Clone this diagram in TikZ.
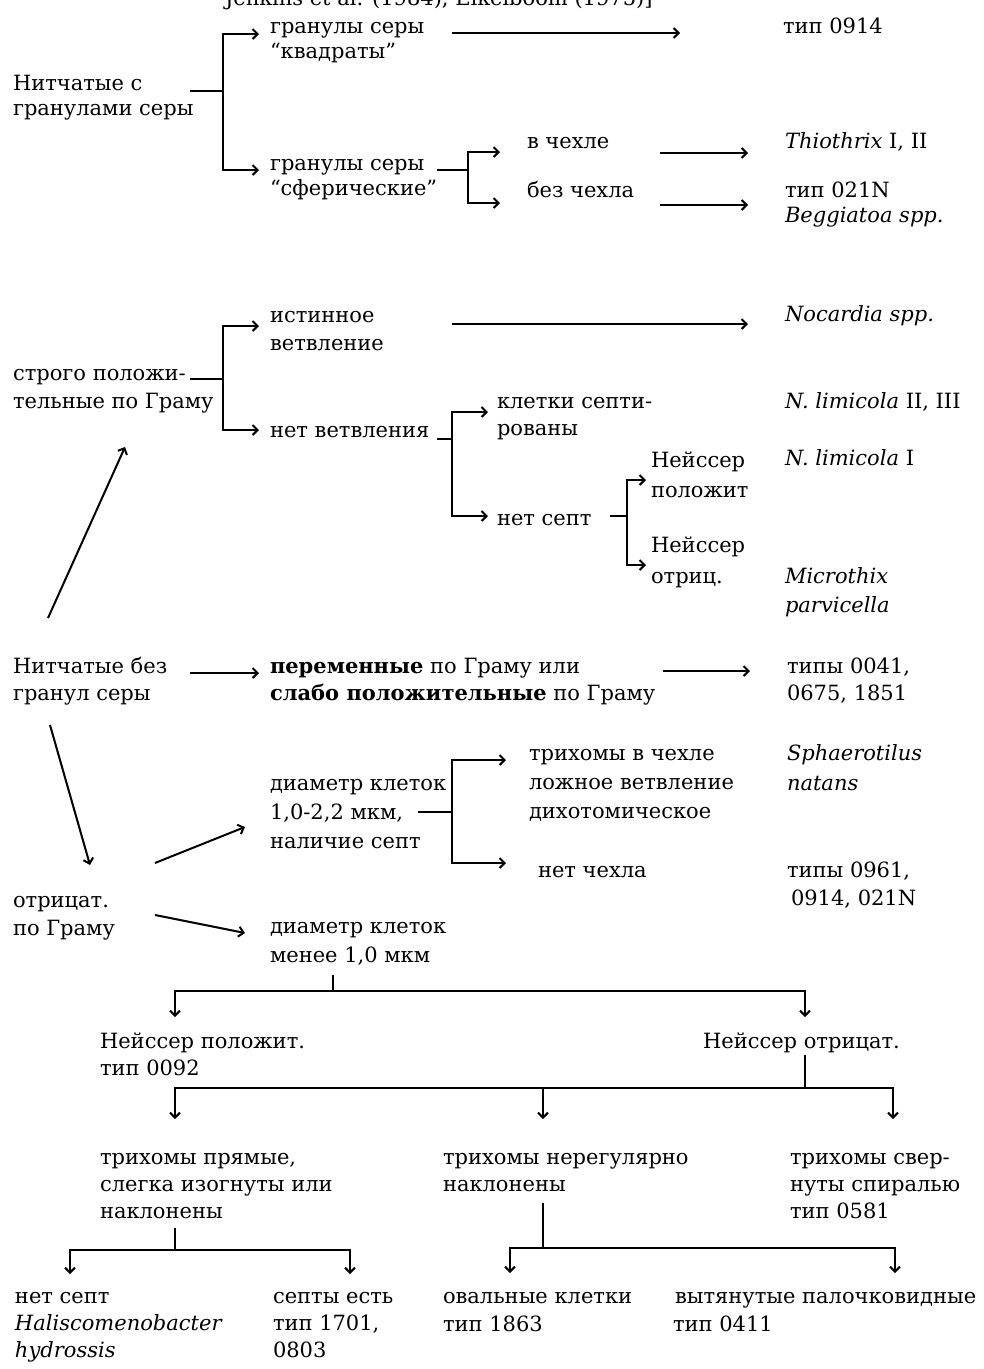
\documentclass[tikz,border=0pt]{standalone}
\usepackage{fontspec}
\setmainfont{DejaVu Serif}
\usetikzlibrary{arrows.meta}
\newcommand\fsz{21pt}
\newcommand\ml[2][27pt]{{\fontsize{\fsz}{#1}\selectfont\renewcommand\arraystretch{1}\begin{tabular}[t]{@{}l@{}}#2\end{tabular}}}
\tikzset{
  txt/.style={anchor=base west, inner sep=0pt, outer sep=0pt, font=\fontsize{\fsz}{27pt}\selectfont},
  ln/.style={line width=2pt},
  arr/.style={line width=2pt, -{Straight Barb[length=5pt,width=10pt,line width=2pt]}}
}
\begin{document}
\begin{tikzpicture}[x=1pt,y=-1pt]
\path[use as bounding box, fill=white] (0,0) rectangle (984,1369);
% title (cut off at top)
\node[txt] (title) at (225,5) {Jenkins et al. (1984), Eikelboom (1975)]};
% ---------- section 1
\node[txt] (s1) at (13,90) {\ml[25pt]{Нитчатые с\\гранулами серы}};
\node[txt] (kv) at (270,33) {\ml[25pt]{гранулы серы\\“квадраты”}};
\node[txt] (t0914) at (783,33) {тип 0914};
\node[txt] (sf) at (270,170) {\ml[25pt]{гранулы серы\\“сферические”}};
\node[txt] (vch) at (527,148) {в чехле};
\node[txt] (bch) at (527,197) {без чехла};
\node[txt] (thio) at (785,148) {\textit{Thiothrix} I, II};
\node[txt] (t021) at (785,197) {\ml[25pt]{тип 021N\\\textit{Beggiatoa spp.}}};
\coordinate (s1o) at (190,91);
\coordinate (j1) at (223,91);
\coordinate (kvi) at (259,34);
\coordinate (sfi) at (259,170);
\draw[ln] (s1o) -- (j1);
\draw[arr] (j1) |- (kvi);
\draw[arr] (j1) |- (sfi);
\coordinate (kvo) at (452,33);
\coordinate (t0914i) at (680,33);
\draw[arr] (kvo) -- (t0914i);
\coordinate (sfo) at (437,170);
\coordinate (j2) at (468,170);
\coordinate (vchi) at (500,152);
\coordinate (bchi) at (500,203);
\draw[ln] (sfo) -- (j2);
\draw[arr] (j2) |- (vchi);
\draw[arr] (j2) |- (bchi);
\coordinate (vcho) at (660,153);
\coordinate (thioi) at (748,153);
\draw[arr] (vcho) -- (thioi);
\coordinate (bcho) at (660,205);
\coordinate (t021i) at (748,205);
\draw[arr] (bcho) -- (t021i);
% ---------- section 2
\node[txt] (sp) at (13,380) {\ml[28pt]{строго положи-\\тельные по Граму}};
\node[txt] (ist) at (270,322) {\ml[28pt]{истинное\\ветвление}};
\node[txt] (noc) at (785,321) {\textit{Nocardia spp.}};
\node[txt] (nv) at (270,437) {нет ветвления};
\node[txt] (kl) at (497,408) {\ml[27pt]{клетки септи-\\рованы}};
\node[txt] (nl23) at (785,408) {\textit{N. limicola} II, III};
\node[txt] (ns) at (497,525) {нет септ};
\node[txt] (np) at (651,467) {\ml[30pt]{Нейссер\\положит}};
\node[txt] (no) at (651,552) {\ml[31pt]{Нейссер\\отриц.}};
\node[txt] (nl1) at (785,465) {\textit{N. limicola} I};
\node[txt] (mic) at (785,583) {\ml[29pt]{\textit{Microthix}\\\textit{parvicella}}};
\coordinate (spo) at (190,379);
\coordinate (j3) at (223,379);
\coordinate (isti) at (259,326);
\coordinate (nvi) at (259,430);
\draw[ln] (spo) -- (j3);
\draw[arr] (j3) |- (isti);
\draw[arr] (j3) |- (nvi);
\coordinate (isto) at (452,324);
\coordinate (noci) at (748,324);
\draw[arr] (isto) -- (noci);
\coordinate (nvo) at (437,439);
\coordinate (j4) at (452,439);
\coordinate (kli) at (488,412);
\coordinate (nsi) at (488,516);
\draw[ln] (nvo) -- (j4);
\draw[arr] (j4) |- (kli);
\draw[arr] (j4) |- (nsi);
\coordinate (nso) at (610,516);
\coordinate (j5) at (627,516);
\coordinate (npi) at (646,480);
\coordinate (noi) at (646,565);
\draw[ln] (nso) -- (j5);
\draw[arr] (j5) |- (npi);
\draw[arr] (j5) |- (noi);
% ---------- section 3
\node[txt] (nb) at (13,673) {\ml[27pt]{Нитчатые без\\гранул серы}};
\node[txt] (pg) at (270,673) {\ml[27pt]{\textbf{переменные} по Граму или\\\textbf{слабо положительные} по Граму}};
\node[txt] (t41) at (787,673) {\ml[27pt]{типы 0041,\\0675, 1851}};
\node[txt] (ot) at (13,907) {\ml[28pt]{отрицат.\\по Граму}};
\node[txt] (d1) at (270,790) {\ml[29pt]{диаметр клеток\\1,0-2,2 мкм,\\наличие септ}};
\node[txt] (tr) at (529,760) {\ml[29pt]{трихомы в чехле\\ложное ветвление\\дихотомическое}};
\node[txt] (nch) at (538,877) {нет чехла};
\node[txt] (sph) at (787,760) {\ml[30pt]{\textit{Sphaerotilus}\\\textit{natans}}};
\node[txt] (t961) at (787,877) {\ml[28pt]{типы 0961,\\\hspace{4pt}0914, 021N}};
\node[txt] (d2) at (270,933) {\ml[29pt]{диаметр клеток\\менее 1,0 мкм}};
\coordinate (nbup) at (48,618);
\coordinate (spin) at (125,447);
\draw[arr] (nbup) -- (spin);
\coordinate (nbo) at (190,673);
\coordinate (pgi) at (259,673);
\draw[arr] (nbo) -- (pgi);
\coordinate (pgo) at (663,671);
\coordinate (t41i) at (750,671);
\draw[arr] (pgo) -- (t41i);
\coordinate (nbdn) at (50,725);
\coordinate (oti) at (90,865);
\draw[arr] (nbdn) -- (oti);
\coordinate (oto1) at (155,863);
\coordinate (d1i) at (245,827);
\draw[arr] (oto1) -- (d1i);
\coordinate (oto2) at (155,915);
\coordinate (d2i) at (245,933);
\draw[arr] (oto2) -- (d2i);
\coordinate (d1o) at (418,812);
\coordinate (j6) at (452,812);
\coordinate (tri) at (506,760);
\coordinate (nchi) at (506,863);
\draw[ln] (d1o) -- (j6);
\draw[arr] (j6) |- (tri);
\draw[arr] (j6) |- (nchi);
% ---------- section 4
\node[txt] (nps) at (100,1048) {\ml[27pt]{Нейссер положит.\\тип 0092}};
\node[txt] (nng) at (703,1048) {Нейссер отрицат.};
\node[txt] (tp) at (100,1164) {\ml[27pt]{трихомы прямые,\\слегка изогнуты или\\наклонены}};
\node[txt] (tn) at (443,1164) {\ml[27pt]{трихомы нерегулярно\\наклонены}};
\node[txt] (ts) at (790,1164) {\ml[27pt]{трихомы свер-\\нуты спиралью\\тип 0581}};
\node[txt] (b1) at (15,1303) {\ml[27pt]{нет септ\\\textit{Haliscomenobacter}\\\textit{hydrossis}}};
\node[txt] (b2) at (273,1303) {\ml[27pt]{септы есть\\тип 1701,\\0803}};
\node[txt] (b3) at (443,1303) {\ml[28pt]{овальные клетки\\тип 1863}};
\node[txt] (b4) at (675,1303) {\ml[28pt]{вытянутые палочковидные\\\hspace{-2pt}тип 0411}};
% tree from d2
\coordinate (d2o) at (333,975);
\coordinate (j7) at (333,991);
\coordinate (npsi) at (175,1017);
\coordinate (nngi) at (805,1017);
\draw[ln] (d2o) -- (j7);
\draw[arr] (j7) -| (npsi);
\draw[arr] (j7) -| (nngi);
% tree from nng
\coordinate (nngo) at (805,1055);
\coordinate (j8) at (805,1088);
\coordinate (tpi) at (175,1119);
\coordinate (tni) at (543,1119);
\coordinate (tsi) at (893,1119);
\coordinate (j8m) at (543,1088);
\draw[ln] (nngo) -- (j8);
\draw[arr] (j8) -| (tpi);
\draw[arr] (j8) -| (tsi);
\draw[arr] (j8m) -- (tni);
% tree from tp
\coordinate (tpo) at (175,1228);
\coordinate (j9) at (175,1250);
\coordinate (b1i) at (70,1274);
\coordinate (b2i) at (350,1274);
\draw[ln] (tpo) -- (j9);
\draw[arr] (j9) -| (b1i);
\draw[arr] (j9) -| (b2i);
% tree from tn
\coordinate (tno) at (543,1203);
\coordinate (j10) at (543,1248);
\coordinate (b3i) at (510,1273);
\coordinate (b4i) at (895,1273);
\draw[ln] (tno) -- (j10);
\draw[arr] (j10) -| (b3i);
\draw[arr] (j10) -| (b4i);
\end{tikzpicture}
\end{document}
